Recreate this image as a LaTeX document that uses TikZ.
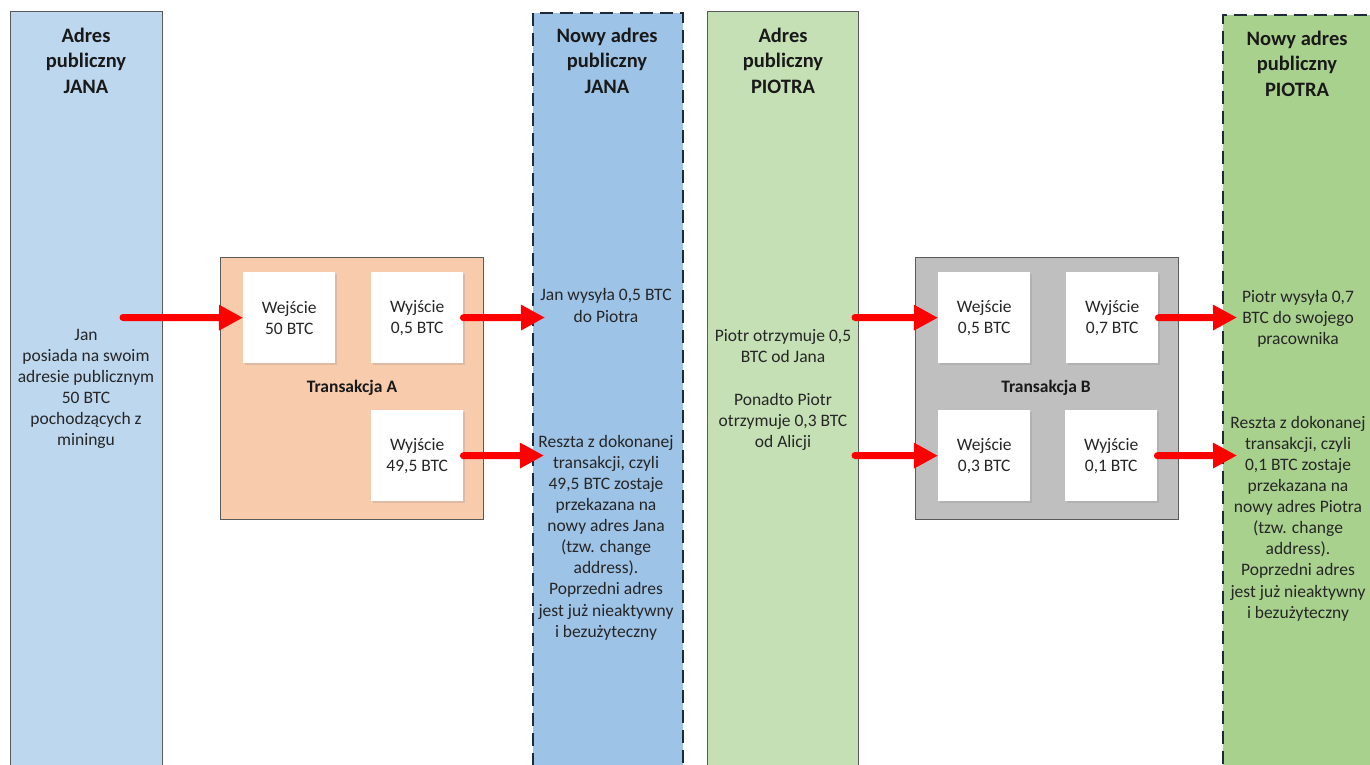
\documentclass[tikz,border=0pt]{standalone}
\usepackage{fontspec}
\setmainfont{Carlito}
\usetikzlibrary{arrows.meta,shadows}

\definecolor{colJan}{HTML}{BDD7EE}
\definecolor{colJanNew}{HTML}{9DC3E6}
\definecolor{colPiotr}{HTML}{C5E0B4}
\definecolor{colPiotrNew}{HTML}{A9D18E}
\definecolor{txAfill}{HTML}{F8CBAD}
\definecolor{txBfill}{HTML}{BFBFBF}
\definecolor{edgegray}{HTML}{5A5A5A}
\definecolor{dashnavy}{HTML}{1E2A3A}
\definecolor{ink}{HTML}{262626}
\definecolor{flow}{HTML}{FF0000}

\newcommand\lanebody{\fontsize{17.5pt}{21.1pt}\selectfont}
\newcommand\lanehead{\bfseries\fontsize{20.5pt}{25.5pt}\selectfont}
\newcommand\txlabel{\bfseries\fontsize{17.5pt}{21pt}\selectfont}

\tikzset{
  lanebox/.style={rectangle, draw=edgegray, line width=1.4pt, fill=#1,
    anchor=north west, minimum width=152pt, minimum height=780pt, inner sep=0pt},
  newlanebox/.style={lanebox=#1, draw=dashnavy, line width=1.8pt,
    dash pattern=on 13pt off 7pt},
  txbox/.style={rectangle, draw=edgegray, line width=1.4pt, fill=#1,
    anchor=north west, minimum width=263pt, minimum height=262pt, inner sep=0pt},
  slotbox/.style={rectangle, fill=white, anchor=north west,
    minimum width=92pt, minimum height=91pt, inner sep=0pt, align=center,
    text=ink, font=\lanebody,
    drop shadow={shadow xshift=1.5pt, shadow yshift=-1.5pt, opacity=0.22}},
  headtext/.style={align=center, text=black!90, font=\lanehead, inner sep=0pt},
  notetext/.style={align=center, text=ink, font=\lanebody, inner sep=0pt},
  flowarrow/.style={draw=flow, line width=7pt, line cap=round,
    -{Triangle[length=24pt,width=24pt]}},
}

\begin{document}
\begin{tikzpicture}[x=1pt,y=-1pt]
\clip (0,0) rectangle (1370,764);
\fill[white] (0,0) rectangle (1370,764);

% address lanes
\node[lanebox=colJan] (laneJ) at (10,11) {};
\node[newlanebox=colJanNew, minimum width=150pt] (laneJn) at (532,12) {};
\node[lanebox=colPiotr, minimum width=151pt] (laneP) at (707,11) {};
\node[newlanebox=colPiotrNew] (lanePn) at (1222,14) {};

% lane headings
\node[headtext] (hJ) at (86,60.5) {Adres\\publiczny\\JANA};
\node[headtext] (hJn) at (607,60.5) {Nowy adres\\publiczny\\JANA};
\node[headtext] (hP) at (783,60.5) {Adres\\publiczny\\PIOTRA};
\node[headtext] (hPn) at (1297,63.5) {Nowy adres\\publiczny\\PIOTRA};

% lane descriptions
\node[notetext] (tJ) at (86,389)
  {Jan\\posiada na swoim\\adresie publicznym\\50 BTC\\pochodzących z\\miningu};
\node[notetext] (tJn1) at (606,305.5) {Jan wysyła 0,5 BTC\\do Piotra};
\node[notetext] (tJn2) at (606,537.5)
  {Reszta z dokonanej\\transakcji, czyli\\49,5 BTC zostaje\\przekazana na\\nowy adres Jana\\(tzw. change\\address).\\Poprzedni adres\\jest już nieaktywny\\i bezużyteczny};
\node[notetext] (tP) at (783,390)
  {Piotr otrzymuje 0,5\\BTC od Jana\\[21.1pt]Ponadto Piotr\\otrzymuje 0,3 BTC\\od Alicji};
\node[notetext] (tPn1) at (1298,318.5) {Piotr wysyła 0,7\\BTC do swojego\\pracownika};
\node[notetext] (tPn2) at (1298,518.5)
  {Reszta z dokonanej\\transakcji, czyli\\0,1 BTC zostaje\\przekazana na\\nowy adres Piotra\\(tzw. change\\address).\\Poprzedni adres\\jest już nieaktywny\\i bezużyteczny};

% transaction A
\node[txbox=txAfill] (txA) at (220,257) {};
\node[slotbox] (inA) at (243,272) {Wejście\\50 BTC};
\node[slotbox] (outA1) at (371,272) {Wyjście\\0,5 BTC};
\node[slotbox] (outA2) at (371,410) {Wyjście\\49,5 BTC};
\node[notetext, text=black!90, font=\txlabel] (labA) at (352,388) {Transakcja A};

% transaction B
\node[txbox=txBfill] (txB) at (915,257) {};
\node[slotbox] (inB1) at (938,272) {Wejście\\0,5 BTC};
\node[slotbox] (outB1) at (1066,272) {Wyjście\\0,7 BTC};
\node[slotbox] (inB2) at (938,410) {Wejście\\0,3 BTC};
\node[slotbox] (outB2) at (1065,410) {Wyjście\\0,1 BTC};
\node[notetext, text=black!90, font=\txlabel] (labB) at (1046,388) {Transakcja B};

% loose ends of the flows
\coordinate (srcJ) at (123,317.5);
\coordinate (dstJ1) at (545,317.5);
\coordinate (dstJ2) at (544,455.5);
\coordinate (srcP1) at (855,317.5);
\coordinate (srcP2) at (855,455.5);
\coordinate (dstP1) at (1237,317.5);
\coordinate (dstP2) at (1237,455.5);

% value flows
\draw[flowarrow] (srcJ) -- (inA.west);
\draw[flowarrow] (outA1.east) -- (dstJ1);
\draw[flowarrow] (outA2.east) -- (dstJ2);
\draw[flowarrow] (srcP1) -- (inB1.west);
\draw[flowarrow] (srcP2) -- (inB2.west);
\draw[flowarrow] (outB1.east) -- (dstP1);
\draw[flowarrow] (outB2.east) -- (dstP2);
\end{tikzpicture}
\end{document}
